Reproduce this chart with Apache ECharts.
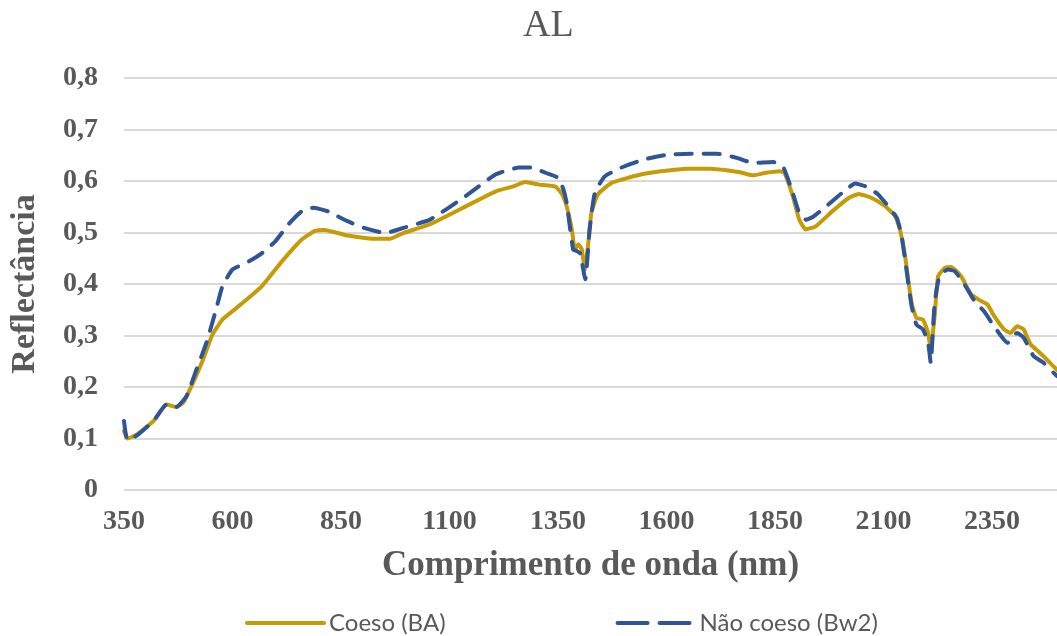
<!DOCTYPE html>
<html>
<head>
<meta charset="utf-8">
<script src="https://cdn.jsdelivr.net/npm/echarts@6/dist/echarts.min.js"></script>
<style>
  html, body { margin: 0; padding: 0; background: #fff; }
  #main { width: 1057px; height: 636px; }
</style>
</head>
<body>
<div id="main"></div>
<script>
// 反射光谱 AL —— 数据点从图上读取 [波长nm, 反射率]
var coesoData = [
    [350, 0.115], [358, 0.100], [380, 0.108], [418, 0.134], [448, 0.166], [470, 0.161],
    [486, 0.169], [509, 0.208], [532, 0.253], [554, 0.302], [577, 0.331], [600, 0.347],
    [623, 0.363], [668, 0.396], [714, 0.444], [759, 0.486], [790, 0.503], [812, 0.505],
    [865, 0.494], [926, 0.488], [964, 0.488], [994, 0.499], [1055, 0.516], [1131, 0.548],
    [1207, 0.580], [1245, 0.589], [1275, 0.598], [1306, 0.593], [1344, 0.589], [1359, 0.575],
    [1370, 0.551], [1382, 0.506], [1389, 0.467], [1397, 0.477], [1405, 0.467], [1412, 0.428],
    [1420, 0.480], [1427, 0.538], [1442, 0.574], [1473, 0.596], [1511, 0.606], [1549, 0.614],
    [1587, 0.619], [1648, 0.624], [1701, 0.624], [1739, 0.621], [1769, 0.617], [1800, 0.611],
    [1830, 0.616], [1861, 0.619], [1872, 0.616], [1891, 0.571], [1906, 0.525], [1921, 0.506],
    [1944, 0.512], [1982, 0.541], [2020, 0.567], [2043, 0.575], [2073, 0.567], [2104, 0.551],
    [2127, 0.532], [2138, 0.506], [2150, 0.454], [2157, 0.409], [2165, 0.363], [2176, 0.334],
    [2191, 0.331], [2203, 0.305], [2209, 0.273], [2218, 0.338], [2226, 0.415], [2241, 0.431],
    [2256, 0.433], [2279, 0.415], [2302, 0.380], [2325, 0.367], [2340, 0.360], [2355, 0.338],
    [2378, 0.312], [2393, 0.305], [2408, 0.318], [2423, 0.312], [2439, 0.283], [2461, 0.266],
    [2484, 0.247], [2500, 0.233]
];
var naoCoesoData = [
    [350, 0.134], [358, 0.097], [380, 0.106], [418, 0.134], [448, 0.166], [470, 0.161],
    [494, 0.182], [517, 0.234], [540, 0.286], [562, 0.350], [577, 0.396], [600, 0.428],
    [638, 0.444], [668, 0.460], [699, 0.483], [729, 0.516], [759, 0.541], [786, 0.548],
    [820, 0.541], [865, 0.522], [903, 0.509], [952, 0.499], [994, 0.509], [1055, 0.525],
    [1131, 0.567], [1207, 0.613], [1260, 0.626], [1290, 0.626], [1321, 0.616], [1351, 0.606],
    [1362, 0.585], [1370, 0.558], [1385, 0.467], [1393, 0.464], [1401, 0.460], [1413, 0.409],
    [1423, 0.506], [1435, 0.577], [1458, 0.609], [1496, 0.626], [1549, 0.642], [1602, 0.651],
    [1663, 0.653], [1716, 0.653], [1762, 0.645], [1800, 0.635], [1845, 0.637], [1868, 0.629],
    [1891, 0.577], [1906, 0.538], [1921, 0.525], [1937, 0.530], [1967, 0.550], [2005, 0.577],
    [2035, 0.595], [2058, 0.590], [2088, 0.574], [2111, 0.551], [2131, 0.528], [2142, 0.493],
    [2153, 0.428], [2165, 0.357], [2176, 0.321], [2191, 0.312], [2203, 0.286], [2209, 0.247],
    [2218, 0.363], [2229, 0.415], [2248, 0.428], [2264, 0.425], [2287, 0.399], [2310, 0.367],
    [2332, 0.347], [2355, 0.318], [2386, 0.286], [2408, 0.305], [2423, 0.296], [2446, 0.260],
    [2469, 0.247], [2500, 0.221]
];
var seriesNames = ['Coeso (BA)', 'Não coeso (Bw2)'];

var myChart = echarts.init(document.getElementById('main'));
var serif = '"Liberation Serif", "Times New Roman", serif';

var option = {
    animation: false,
    title: {
        text: 'AL',
        left: 518,
        top: 2,
        textStyle: {
            fontFamily: serif,
            fontSize: 38,
            fontWeight: 'normal',
            color: '#595959'
        }
    },
    legend: {
        left: 245,
        top: 611,
        padding: 0,
        itemWidth: 77,
        itemHeight: 14,
        itemGap: 170,
        itemStyle: { opacity: 0 },     //不显示图例里的圆点
        textStyle: {
            fontFamily: 'Lato, "Liberation Sans", sans-serif',
            fontSize: 24,
            color: '#595959'
        },
        data: [
            { name: seriesNames[0], lineStyle: { width: 4 } },
            { name: seriesNames[1], lineStyle: { width: 4, type: [30, 12] } }
        ]
    },
    grid: {     //图表位置
        left: 117,
        right: -4,
        top: 78,
        bottom: 146
    },
    xAxis: {
        type: 'value',
        min: 350,
        max: 2500,
        interval: 250,
        name: 'Comprimento de onda (nm)',
        nameLocation: 'middle',
        nameGap: 58,
        nameTextStyle: {
            fontFamily: serif,
            fontSize: 35,
            fontWeight: 'bold',
            color: '#595959'
        },
        axisLabel: {
            showMaxLabel: false,
            margin: 18,
            fontFamily: serif,
            fontSize: 28,
            fontWeight: 'bold',
            color: '#595959',
            formatter: function (v) { return String(v); }
        },
        axisLine: { show: false },
        axisTick: { show: false },
        splitLine: { show: false }
    },
    yAxis: {
        type: 'value',
        min: 0,
        max: 0.8,
        interval: 0.1,
        name: 'Reflectância',
        nameLocation: 'middle',
        nameGap: 82,
        nameTextStyle: {
            fontFamily: serif,
            fontSize: 34,
            fontWeight: 'bold',
            color: '#595959'
        },
        axisLabel: {
            margin: 26,
            fontFamily: serif,
            fontSize: 28,
            fontWeight: 'bold',
            color: '#595959',
            formatter: function (v) {
                return v === 0 ? '0' : v.toFixed(1).replace('.', ',');
            }
        },
        axisLine: { show: false },
        axisTick: { show: false },
        splitLine: {    //分隔线
            lineStyle: { color: '#D9D9D9', width: 2 }
        }
    },
    series: [
        {
            name: seriesNames[0],
            type: 'line',
            symbol: 'none',
            smooth: 0.15,
            data: coesoData,
            lineStyle: { color: '#C59B06', width: 4, cap: 'round', join: 'round' },
            itemStyle: { color: '#C59B06' }
        },
        {
            name: seriesNames[1],
            type: 'line',
            symbol: 'none',
            smooth: 0.15,
            data: naoCoesoData,
            lineStyle: { color: '#2F5597', width: 4, type: [16, 12], cap: 'round', join: 'round' },
            itemStyle: { color: '#2F5597' }
        }
    ]
};

myChart.setOption(option);
</script>
</body>
</html>
